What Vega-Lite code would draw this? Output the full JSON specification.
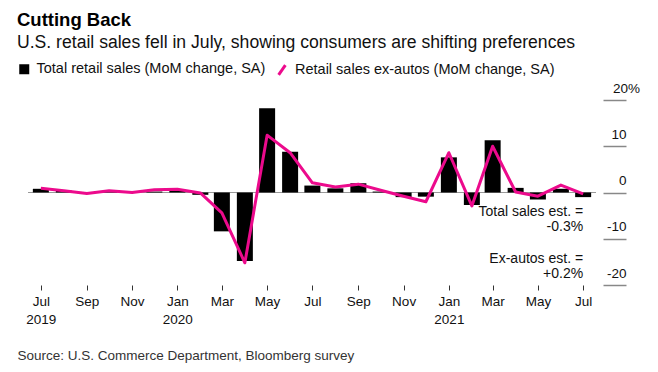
{
  "$schema": "https://vega.github.io/schema/vega-lite/v6.json",
  "width": 568,
  "height": 185,
  "autosize": {"type": "none"},
  "padding": {"left": 28, "top": 100, "right": 62, "bottom": 87},
  "title": {
    "text": "Cutting Back",
    "subtitle": "U.S. retail sales fell in July, showing consumers are shifting preferences",
    "anchor": "start",
    "frame": "group",
    "dx": -11,
    "offset": 10,
    "font": "Liberation Sans",
    "fontSize": 18.5,
    "fontWeight": "bold",
    "color": "#000",
    "subtitleFont": "Liberation Sans",
    "subtitleFontSize": 17.6,
    "subtitleColor": "#111",
    "subtitlePadding": 5
  },
  "data": {
    "values": [
      {"date": "2019-07-01", "total": 0.8, "exauto": 0.9},
      {"date": "2019-08-01", "total": 0.4, "exauto": 0.4},
      {"date": "2019-09-01", "total": -0.3, "exauto": -0.2},
      {"date": "2019-10-01", "total": 0.3, "exauto": 0.4},
      {"date": "2019-11-01", "total": 0.2, "exauto": 0.0},
      {"date": "2019-12-01", "total": 0.2, "exauto": 0.6},
      {"date": "2020-01-01", "total": 0.6, "exauto": 0.7},
      {"date": "2020-02-01", "total": -0.5, "exauto": -0.1},
      {"date": "2020-03-01", "total": -8.4, "exauto": -4.4},
      {"date": "2020-04-01", "total": -14.8, "exauto": -15.2},
      {"date": "2020-05-01", "total": 18.2, "exauto": 12.4},
      {"date": "2020-06-01", "total": 8.8, "exauto": 8.6},
      {"date": "2020-07-01", "total": 1.5, "exauto": 2.1},
      {"date": "2020-08-01", "total": 0.9, "exauto": 1.2},
      {"date": "2020-09-01", "total": 2.0, "exauto": 1.8},
      {"date": "2020-10-01", "total": 0.2, "exauto": 0.5},
      {"date": "2020-11-01", "total": -1.0, "exauto": -0.8},
      {"date": "2020-12-01", "total": -0.9, "exauto": -2.0},
      {"date": "2021-01-01", "total": 7.6, "exauto": 8.6},
      {"date": "2021-02-01", "total": -2.7, "exauto": -2.9},
      {"date": "2021-03-01", "total": 11.3, "exauto": 10.0},
      {"date": "2021-04-01", "total": 1.0, "exauto": 0.1},
      {"date": "2021-05-01", "total": -1.5, "exauto": -0.8},
      {"date": "2021-06-01", "total": 0.8, "exauto": 1.6},
      {"date": "2021-07-01", "total": -1.0, "exauto": -0.3}
    ]
  },
  "encoding": {
    "x": {
      "field": "date",
      "type": "temporal",
      "scale": {
        "type": "utc",
        "domain": [
          {"year": 2019, "month": 6, "date": 20, "hours": 10, "utc": true},
          {"year": 2021, "month": 7, "date": 11, "hours": 14, "utc": true}
        ]
      },
      "axis": {
        "title": "Source: U.S. Commerce Department, Bloomberg survey",
        "titleAnchor": "start",
        "titleAlign": "left",
        "titleX": -11,
        "titleY": 74,
        "titleBaseline": "alphabetic",
        "titleFont": "Liberation Sans",
        "titleFontSize": 13.5,
        "titleFontWeight": "normal",
        "titleColor": "#333",
        "values": [
          {"year": 2019, "month": 7, "date": 1, "utc": true},
          {"year": 2019, "month": 9, "date": 1, "utc": true},
          {"year": 2019, "month": 11, "date": 1, "utc": true},
          {"year": 2020, "month": 1, "date": 1, "utc": true},
          {"year": 2020, "month": 3, "date": 1, "utc": true},
          {"year": 2020, "month": 5, "date": 1, "utc": true},
          {"year": 2020, "month": 7, "date": 1, "utc": true},
          {"year": 2020, "month": 9, "date": 1, "utc": true},
          {"year": 2020, "month": 11, "date": 1, "utc": true},
          {"year": 2021, "month": 1, "date": 1, "utc": true},
          {"year": 2021, "month": 3, "date": 1, "utc": true},
          {"year": 2021, "month": 5, "date": 1, "utc": true},
          {"year": 2021, "month": 7, "date": 1, "utc": true}
        ],
        "labelExpr": "(utcmonth(datum.value) == 0 || (utcmonth(datum.value) == 6 && utcyear(datum.value) == 2019)) ? [utcFormat(datum.value, '%b'), utcFormat(datum.value, '%Y')] : utcFormat(datum.value, '%b')",
        "domain": false,
        "grid": false,
        "ticks": true,
        "tickSize": 5,
        "tickColor": "#333",
        "tickWidth": 1,
        "labelPadding": 4,
        "labelFont": "Liberation Sans",
        "labelFontSize": 13.5,
        "labelColor": "#111",
        "labelLineHeight": 18,
        "labelBaseline": "top",
        "labelAlign": "center",
        "labelFlush": false,
        "labelOverlap": false
      }
    }
  },
  "layer": [
    {
      "data": {"values": [{"zero": 0}]},
      "mark": {"type": "rule", "color": "#999", "strokeWidth": 1},
      "encoding": {"x": null, "y": {"field": "zero", "type": "quantitative"}}
    },
    {
      "mark": {"type": "bar", "width": 16},
      "encoding": {
        "y": {
          "field": "total",
          "type": "quantitative",
          "scale": {"domain": [-20, 20], "nice": false, "zero": false},
          "axis": {
            "orient": "right",
            "title": null,
            "values": [-20, -10, 0, 10, 20],
            "labelExpr": "datum.value == 20 ? '20%' : toString(datum.value)",
            "domain": false,
            "grid": false,
            "offset": 7,
            "tickSize": 23,
            "tickColor": "#888",
            "tickWidth": 1.5,
            "labelPadding": 0,
            "labelAlign": {"condition": {"test": "datum.value == 20", "value": "center"}, "value": "right"},
            "labelBaseline": "alphabetic",
            "labelOffset": -8,
            "labelFont": "Liberation Sans",
            "labelFontSize": 13.5,
            "labelColor": "#111",
            "labelFlush": false,
            "labelOverlap": false
          }
        },
        "color": {
          "datum": "Total retail sales (MoM change, SA)",
          "type": "nominal",
          "scale": {"range": ["#000000"]},
          "legend": {
            "title": null,
            "orient": "none",
            "legendX": -11,
            "legendY": -38,
            "symbolType": "square",
            "symbolSize": 100,
            "symbolStrokeWidth": 0,
            "labelOffset": 5,
            "labelFont": "Liberation Sans",
            "labelFontSize": 14.5,
            "labelColor": "#111",
            "labelLimit": 400
          }
        }
      }
    },
    {
      "mark": {"type": "line", "strokeWidth": 3, "strokeJoin": "round"},
      "encoding": {
        "y": {"field": "exauto", "type": "quantitative"},
        "stroke": {
          "datum": "Retail sales ex-autos (MoM change, SA)",
          "type": "nominal",
          "scale": {"range": ["#ec0a8c"]},
          "legend": {
            "title": null,
            "orient": "none",
            "legendX": 246,
            "legendY": -38,
            "symbolType": "M-0.55,0.8L0.55,-0.8",
            "symbolSize": 150,
            "symbolStrokeWidth": 3,
            "labelOffset": 5,
            "labelFont": "Liberation Sans",
            "labelFontSize": 14.5,
            "labelColor": "#111",
            "labelLimit": 400
          }
        }
      }
    },
    {
      "data": {"values": [{"d": "2021-07-01", "v": -5.0}]},
      "mark": {"type": "text", "text": ["Total sales est. =", "-0.3%"], "align": "right", "baseline": "alphabetic", "lineHeight": 15.3, "font": "Liberation Sans", "fontSize": 14, "fill": "#111"},
      "encoding": {
        "x": {"field": "d", "type": "temporal"},
        "y": {"field": "v", "type": "quantitative"}
      }
    },
    {
      "data": {"values": [{"d": "2021-07-01", "v": -15.2}]},
      "mark": {"type": "text", "text": ["Ex-autos est. =", "+0.2%"], "align": "right", "baseline": "alphabetic", "lineHeight": 15.3, "font": "Liberation Sans", "fontSize": 14, "fill": "#111"},
      "encoding": {
        "x": {"field": "d", "type": "temporal"},
        "y": {"field": "v", "type": "quantitative"}
      }
    }
  ],
  "config": {
    "view": {"stroke": null},
    "font": "Liberation Sans"
  }
}
